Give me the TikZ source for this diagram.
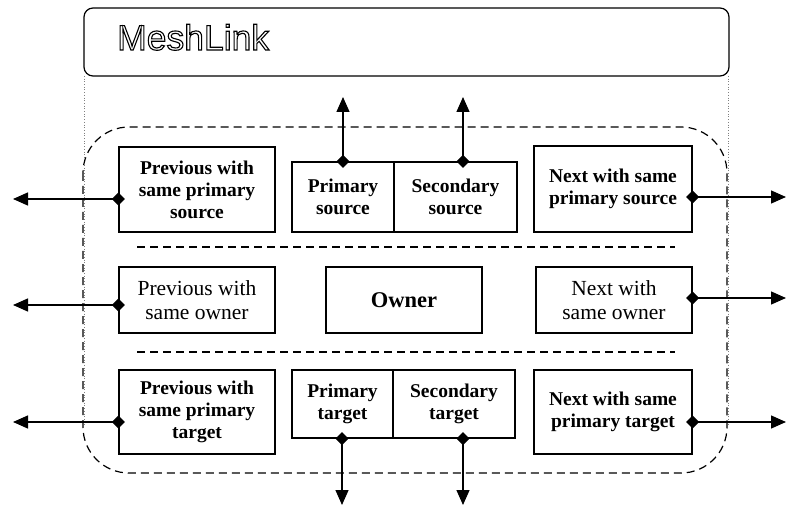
\documentclass[tikz,border=0pt]{standalone}
\usepackage{fontspec}
\setmainfont{Liberation Serif}
\newfontfamily\headfont{Liberation Sans}
\usetikzlibrary{arrows.meta}

% hollow (outlined) lettering via the PDF text rendering mode
\newcommand\hollowtext[1]{\special{pdf:literal direct 1 Tr 1.1 w}#1\special{pdf:literal direct 0 Tr 0.4 w}}

\begin{document}
\begin{tikzpicture}[x=1pt,y=-1pt,
  field/.style={draw, line width=1.4pt, align=center, inner sep=0pt,
    font=\fontsize{19.5}{22}\selectfont\bfseries},
  ownerfield/.style={field, font=\fontsize{21.5}{24}\selectfont},
  link/.style={line width=1.3pt, shorten <=-6.5pt,
    {Diamond[length=13pt,width=13pt]}-{Triangle[length=15pt,width=13pt]}},
  region/.style={dashed, dash pattern=on 8pt off 5pt, line width=1.2pt},
  guide/.style={dotted, line width=0.7pt, gray}]
\useasboundingbox (0,0) rectangle (788,508);

% MeshLink header
\draw[line width=1.2pt, rounded corners=9pt] (84,8) rectangle (729,76);
\node[anchor=base west, inner sep=0pt, font=\headfont\fontsize{35.5}{36}\selectfont]
  (title) at (117,50) {\hollowtext{MeshLink}};
\draw[guide] (84,76) -- (84,425);
\draw[guide] (728,76) -- (728,425);

% dashed region holding the link fields
\draw[region, rounded corners=46pt] (83,127) rectangle (727,473);
\draw[region] (137,247) -- (675,247);
\draw[region] (137,352) -- (675,352);

% row 1: sources
\node[field, minimum width=156pt, minimum height=85pt] (prevsrc) at (197,189.5)
  {Previous with\\same primary\\source};
\node[field, minimum width=102pt, minimum height=70pt] (psrc) at (343,197)
  {Primary\\source};
\node[field, minimum width=123pt, minimum height=70pt] (ssrc) at (455.5,197)
  {Secondary\\source};
\node[field, minimum width=158pt, minimum height=86pt] (nextsrc) at (613,189)
  {Next with same\\primary source};

% row 2: owner
\node[ownerfield, minimum width=156pt, minimum height=66pt] (prevown) at (197,300)
  {Previous with\\same owner};
\node[ownerfield, font=\fontsize{22.5}{24}\selectfont\bfseries,
  minimum width=156pt, minimum height=66pt] (owner) at (404,300) {Owner};
\node[ownerfield, minimum width=156pt, minimum height=66pt] (nextown) at (614,300)
  {Next with\\same owner};

% row 3: targets
\node[field, minimum width=156pt, minimum height=84pt] (prevtgt) at (197,412)
  {Previous with\\same primary\\target};
\node[field, minimum width=101pt, minimum height=68pt] (ptgt) at (342.5,404)
  {Primary\\target};
\node[field, minimum width=122pt, minimum height=68pt] (stgt) at (454,404)
  {Secondary\\target};
\node[field, minimum width=158pt, minimum height=84pt] (nexttgt) at (613,412)
  {Next with same\\primary target};

% free ends of the links
\coordinate (upA) at (343,97);
\coordinate (upB) at (463,97);
\coordinate (dnA) at (342,505);
\coordinate (dnB) at (463,505);
\coordinate (l1) at (13,199);
\coordinate (r1) at (786,197);
\coordinate (l2) at (13,305);
\coordinate (r2) at (786,298);
\coordinate (l3) at (13,422);
\coordinate (r3) at (786,422);

% links
\draw[link] (upA |- psrc.north) -- (upA);
\draw[link] (upB |- ssrc.north) -- (upB);
\draw[link] (dnA |- ptgt.south) -- (dnA);
\draw[link] (dnB |- stgt.south) -- (dnB);
\draw[link] (prevsrc.west |- l1) -- (l1);
\draw[link] (nextsrc.east |- r1) -- (r1);
\draw[link] (prevown.west |- l2) -- (l2);
\draw[link] (nextown.east |- r2) -- (r2);
\draw[link] (prevtgt.west |- l3) -- (l3);
\draw[link] (nexttgt.east |- r3) -- (r3);
\end{tikzpicture}
\end{document}
